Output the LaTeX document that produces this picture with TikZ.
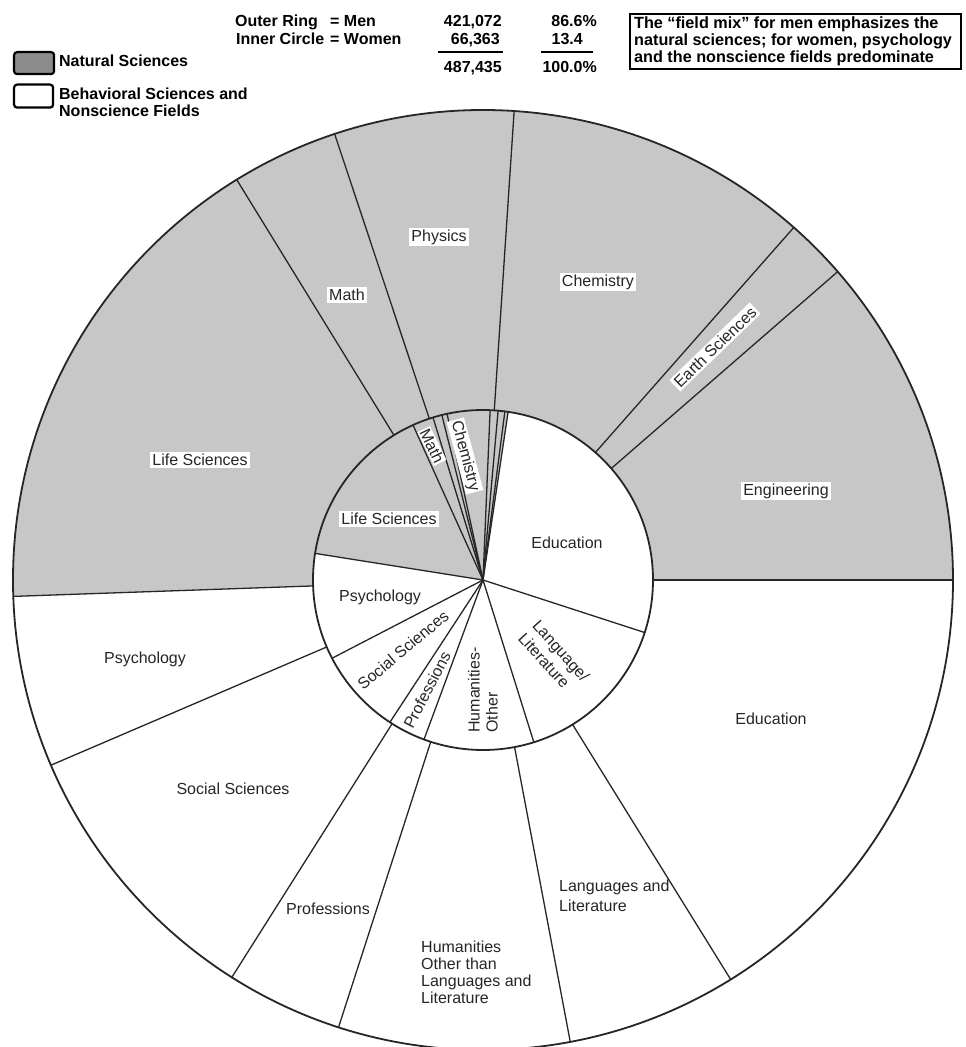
\documentclass[tikz,border=0pt]{standalone}
\usepackage{fontspec}
\setmainfont{Liberation Sans}
\begin{document}
\begin{tikzpicture}[x=1pt,y=1pt,
  sci/.style={fill=black!22},
  rim/.style={line width=1.8pt, draw=black!85},
  spoke/.style={line width=1.3pt, draw=black!85},
  lab/.style={font=\fontsize{16}{17.5}\selectfont, text=black!85, inner sep=2pt},
  blab/.style={lab, fill=white},
  hdr/.style={font=\fontsize{16}{17}\selectfont\bfseries, inner sep=0pt},
  legbox/.style={line width=2.2pt, rounded corners=3pt},
]
\useasboundingbox (-483,-467) rectangle (483,580);
\fill[white] (-483,-467) rectangle (483,580);
\coordinate (c) at (0,0);

% shaded (natural sciences) parts
\fill[sci] (0:470) arc[start angle=0,end angle=182,radius=470pt] -- (182:170) arc[start angle=182,end angle=0,radius=170pt] -- cycle;
\fill[sci] (c) -- (81.5:170) arc[start angle=81.5,end angle=171,radius=170pt] -- cycle;

% outer ring (men) dividers
\foreach \a in {0,41,48.6,86.2,108.4,121.6,182,203.2,237.7,252.1,280.7,301.8}
  \draw[spoke] (\a:170) -- (\a:470);
% inner circle (women) dividers
\foreach \a in {81.5,82.6,84.9,87.6,102.2,104,107.1,114.3,171,207.4,236.8,249.7,287.4,342}
  \draw[spoke] (c) -- (\a:170);

\draw[rim] (c) circle[radius=470pt];
\draw[rim] (c) circle[radius=170pt];

% outer labels
\node[blab] (mPhys) at (-44,343) {Physics};
\node[blab] (mMath) at (-136,285) {Math};
\node[blab] (mChem) at (115,298) {Chemistry};
\node[blab, rotate=44] (mEarth) at (232,233) {Earth Sciences};
\node[blab] (mEng) at (303,89) {Engineering};
\node[blab] (mLife) at (-283,120) {Life Sciences};
\node[lab] (mPsy) at (-338,-79) {Psychology};
\node[lab] (mSoc) at (-250,-209) {Social Sciences};
\node[lab] (mProf) at (-155,-329) {Professions};
\node[lab, anchor=west, align=left, font=\fontsize{16}{17}\selectfont] (mHum) at (-64,-392) {Humanities\\Other than\\Languages and\\Literature};
\node[lab, anchor=west, align=left, font=\fontsize{16}{20}\selectfont] (mLang) at (74,-316) {Languages and\\Literature};
\node[lab] (mEdu) at (288,-139) {Education};

% inner labels
\node[blab] (wLife) at (-94,61) {Life Sciences};
\node[blab, rotate=-64, inner sep=1pt] (wMath) at (-51,134) {Math};
\node[blab, rotate=-75, inner sep=1.5pt] (wChem) at (-18,124) {Chemistry};
\node[lab] (wEdu) at (84,37) {Education};
\node[lab] (wPsy) at (-103,-17) {Psychology};
\node[lab, rotate=40] (wSoc) at (-80,-70) {Social Sciences};
\node[lab, rotate=62.5] (wProf) at (-56,-110) {Professions};
\node[lab, rotate=90, align=left, font=\fontsize{16}{18}\selectfont] (wHum) at (0,-110) {Humanities-\\Other};
\node[lab, rotate=-48, align=left, font=\fontsize{16}{19}\selectfont] (wLang) at (71,-77) {Language/\\Literature};

% header
\node[hdr, anchor=base west] (h1) at (-248,553) {Outer Ring};
\node[hdr, anchor=base west] (h1e) at (-153,553) {= Men};
\node[hdr, anchor=base west] (h2) at (-247,535) {Inner Circle};
\node[hdr, anchor=base west] (h2e) at (-153,535) {= Women};
\node[hdr, anchor=base east] (n1) at (19,553) {421,072};
\node[hdr, anchor=base east] (n2) at (17,535) {66,363};
\node[hdr, anchor=base east] (n3) at (19,507) {487,435};
\node[hdr, anchor=base east] (p1) at (114,553) {86.6\%};
\node[hdr, anchor=base east] (p2) at (100,535) {13.4};
\node[hdr, anchor=base east] (p3) at (114,507) {100.0\%};
\coordinate (r1a) at (-45,528); \coordinate (r1b) at (20,528);
\coordinate (r2a) at (58,528); \coordinate (r2b) at (110,528);
\draw[line width=1.3pt] (r1a) -- (r1b);
\draw[line width=1.3pt] (r2a) -- (r2b);

% note box
\node[draw, line width=1.6pt, minimum width=331pt, minimum height=55pt, anchor=north west, inner sep=0pt] (note) at (146,567) {};
\node[anchor=north west, align=left, inner sep=0pt, font=\fontsize{16.2}{17}\selectfont\bfseries] (notetxt) at (151,563.5)
  {The \textquotedblleft field mix\textquotedblright\ for men emphasizes the\\natural sciences; for women, psychology\\and the nonscience fields predominate};

% legend
\node[legbox, draw, fill=black!45, minimum width=40pt, minimum height=22pt, anchor=north west, inner sep=0pt] (legS) at (-470,529) {};
\node[hdr, anchor=base west] (legSt) at (-424,513) {Natural Sciences};
\node[legbox, draw, fill=white, minimum width=39pt, minimum height=23pt, anchor=north west, inner sep=0pt] (legW) at (-470,496.5) {};
\node[hdr, anchor=base west] (legWt1) at (-424,480) {Behavioral Sciences and};
\node[hdr, anchor=base west] (legWt2) at (-424,463) {Nonscience Fields};
\end{tikzpicture}
\end{document}
